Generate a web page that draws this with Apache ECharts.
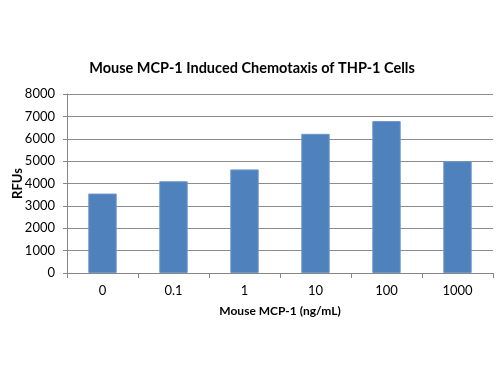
<!DOCTYPE html>
<html><head><meta charset="utf-8">
<script src="https://cdn.jsdelivr.net/npm/echarts@6/dist/echarts.min.js"></script>
<style>html,body{margin:0;padding:0;background:#fff}#c{width:500px;height:375px}</style>
</head><body><div id="c"></div>
<script>
const categories = ['0', '0.1', '1', '10', '100', '1000'];
const rfuValues = [3550, 4100, 4630, 6220, 6790, 4990];
const titleText = 'Mouse MCP-1 Induced Chemotaxis of THP-1 Cells';
const xName = 'Mouse MCP-1 (ng/mL)';
const yName = 'RFUs';

const chart = echarts.init(document.getElementById('c'));
const font = 'Lato, "Open Sans", sans-serif';
chart.setOption({
  animation: false,
  title: {
    text: titleText, left: 247, top: 56, textAlign: 'center',
    textStyle: { fontFamily: font, fontSize: 14.5, fontWeight: 'bold', color: '#000' }
  },
  grid: { left: 67, right: 7, top: 94, bottom: 102, containLabel: false, outerBoundsMode: 'none' },
  xAxis: {
    type: 'category', data: categories,
    name: xName, nameLocation: 'middle', nameGap: 32, nameMoveOverlap: false,
    nameTextStyle: { fontFamily: font, fontSize: 12, fontWeight: 'bold', color: '#000' },
    axisLine: { lineStyle: { color: '#868686' } },
    axisTick: { show: true, length: 5, lineStyle: { color: '#868686' } },
    axisLabel: { fontFamily: font, fontSize: 13, color: '#000', margin: 11 }
  },
  yAxis: {
    type: 'value', min: 0, max: 8000, interval: 1000,
    name: yName, nameLocation: 'middle', nameGap: 43, nameRotate: 90, nameMoveOverlap: false,
    nameTextStyle: { fontFamily: font, fontSize: 13, fontWeight: 'bold', color: '#000' },
    axisLine: { show: true, lineStyle: { color: '#868686' } },
    axisTick: { show: true, length: 4, lineStyle: { color: '#868686' } },
    axisLabel: { fontFamily: font, fontSize: 13, color: '#000', margin: 12, formatter: v => String(v) },
    splitLine: { lineStyle: { color: '#8c8c8c' } }
  },
  series: [{
    type: 'bar', data: rfuValues, barWidth: '40%',
    itemStyle: { color: '#4f81bd', borderColor: '#6d96cc', borderWidth: 1 }
  }]
});
</script></body></html>
